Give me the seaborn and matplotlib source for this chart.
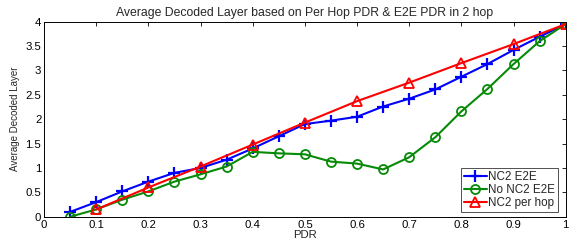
import pandas as pd
import matplotlib
matplotlib.use('Agg')
import matplotlib.pyplot as plt
import seaborn as sns

# PDR values on the x axis
pdr = [0.05, 0.1, 0.15, 0.2, 0.25, 0.3, 0.35, 0.4, 0.45, 0.5,
       0.55, 0.6, 0.65, 0.7, 0.75, 0.8, 0.85, 0.9, 0.95, 1.0]
nc2_e2e = [0.1, 0.3, 0.52, 0.72, 0.9, 1.0, 1.17, 1.4, 1.65, 1.9,
           1.97, 2.05, 2.26, 2.42, 2.61, 2.87, 3.13, 3.42, 3.69, 3.95]
no_nc2_e2e = [0.0, 0.15, 0.35, 0.52, 0.72, 0.87, 1.03, 1.33, 1.3, 1.28,
              1.13, 1.09, 0.97, 1.22, 1.63, 2.16, 2.62, 3.13, 3.6, 3.95]
pdr_hop = [0.1, 0.2, 0.3, 0.4, 0.5, 0.6, 0.7, 0.8, 0.9, 1.0]
nc2_per_hop = [0.15, 0.6, 1.03, 1.48, 1.93, 2.37, 2.75, 3.15, 3.54, 3.95]

sns.set_style('white')
plt.rcParams['font.family'] = ['Liberation Sans', 'DejaVu Sans']

fig = plt.figure(figsize=(5.72, 2.43), dpi=100)
ax = fig.add_axes([0.077, 0.108, 0.912, 0.803])

df1 = pd.DataFrame({'PDR': pdr, 'val': nc2_e2e})
df2 = pd.DataFrame({'PDR': pdr, 'val': no_nc2_e2e})
df3 = pd.DataFrame({'PDR': pdr_hop, 'val': nc2_per_hop})

sns.lineplot(data=df1, x='PDR', y='val', ax=ax, color='#0000ff', lw=1.5,
             marker='+', markersize=8, mew=1.6, mec='#0000ff', label='NC2 E2E')
sns.lineplot(data=df2, x='PDR', y='val', ax=ax, color='#078a07', lw=1.5,
             marker='o', markersize=6.5, mew=1.3, mfc='none', mec='#078a07',
             label='No NC2 E2E')
sns.lineplot(data=df3, x='PDR', y='val', ax=ax, color='#ff0000', lw=1.5,
             marker='^', markersize=7.5, mew=1.3, mfc='none', mec='#ff0000',
             label='NC2 per hop')

ax.set_xlim(0, 1)
ax.set_ylim(0, 4)
ax.set_xticks([0, 0.1, 0.2, 0.3, 0.4, 0.5, 0.6, 0.7, 0.8, 0.9, 1])
ax.set_xticklabels(['0', '0.1', '0.2', '0.3', '0.4', '0.5', '0.6', '0.7', '0.8', '0.9', '1'])
ax.set_yticks([0, 0.5, 1, 1.5, 2, 2.5, 3, 3.5, 4])
ax.set_yticklabels(['0', '0.5', '1', '1.5', '2', '2.5', '3', '3.5', '4'])
ax.tick_params(direction='in', length=3, width=0.6, top=True, right=True,
               labelsize=8.2, pad=2, colors='black')
for s in ax.spines.values():
    s.set_color('black')
    s.set_linewidth(0.7)

ax.set_title('Average Decoded Layer based on Per Hop PDR & E2E PDR in 2 hop',
             fontsize=8.8, pad=4)
ax.set_xlabel('PDR', fontsize=8.2, labelpad=0)
ax.set_ylabel('Average Decoded Layer', fontsize=7, labelpad=4)

leg = ax.legend(loc='lower right', fontsize=8.4, frameon=True, fancybox=False,
                handlelength=2.0, handletextpad=0.1, borderpad=0.25,
                labelspacing=0.1, borderaxespad=0.0,
                bbox_to_anchor=(0.985, 0.025))
leg.get_frame().set_edgecolor('black')
leg.get_frame().set_linewidth(0.6)

fig.savefig('out.png', dpi=100)
